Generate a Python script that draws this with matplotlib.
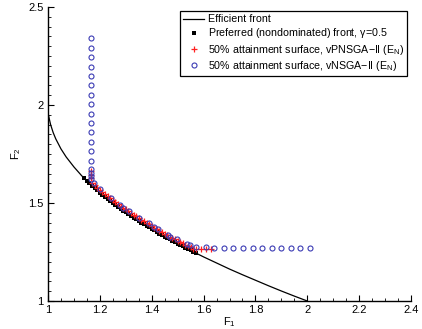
import matplotlib
matplotlib.use("Agg")
import matplotlib.pyplot as plt
from matplotlib.ticker import MultipleLocator, FuncFormatter

plt.rcParams['font.family'] = ['Liberation Sans', 'DejaVu Sans']
plt.rcParams['mathtext.fontset'] = 'custom'
plt.rcParams['mathtext.rm'] = 'Liberation Sans'
plt.rcParams['mathtext.it'] = 'Liberation Sans'

# Efficient front
front_f1 = [1.0, 1.005, 1.01, 1.02, 1.03, 1.05, 1.07, 1.10, 1.13, 1.16, 1.20, 1.25, 1.30,
            1.35, 1.40, 1.45, 1.50, 1.55, 1.60, 1.65, 1.70, 1.75, 1.80, 1.85, 1.90, 1.95, 2.0]
front_f2 = [1.96, 1.929, 1.900, 1.859, 1.827, 1.776, 1.735, 1.684, 1.639, 1.600, 1.553, 1.500, 1.452,
            1.408, 1.368, 1.329, 1.293, 1.258, 1.225, 1.194, 1.163, 1.134, 1.106, 1.078, 1.051, 1.025, 1.0]

# Preferred (nondominated) front
pref_f1 = [1.14, 1.15, 1.16, 1.17, 1.18, 1.19, 1.20, 1.21, 1.22, 1.23, 1.24, 1.25, 1.26, 1.27,
           1.28, 1.29, 1.30, 1.31, 1.32, 1.33, 1.34, 1.35, 1.36, 1.37, 1.38, 1.39, 1.40, 1.41,
           1.42, 1.43, 1.44, 1.45, 1.46, 1.47, 1.48, 1.49, 1.50, 1.51, 1.52, 1.53, 1.54, 1.55,
           1.56, 1.57]
pref_f2 = [1.626, 1.613, 1.600, 1.588, 1.576, 1.564, 1.553, 1.542, 1.531, 1.520, 1.510, 1.500, 1.490, 1.480,
           1.471, 1.461, 1.452, 1.443, 1.434, 1.426, 1.417, 1.408, 1.400, 1.392, 1.384, 1.376, 1.368, 1.360,
           1.352, 1.344, 1.337, 1.329, 1.322, 1.314, 1.307, 1.300, 1.293, 1.286, 1.279, 1.272, 1.265, 1.258,
           1.252, 1.245]

# 50% attainment surface, vPNSGA-II
vp_f1 = [1.165, 1.165, 1.165, 1.17, 1.18, 1.19, 1.20, 1.21, 1.22, 1.23, 1.24, 1.25, 1.26, 1.27,
         1.28, 1.29, 1.30, 1.31, 1.32, 1.33, 1.34, 1.35, 1.36, 1.37, 1.38, 1.39, 1.40, 1.41,
         1.42, 1.43, 1.44, 1.45, 1.46, 1.47, 1.48, 1.49, 1.50, 1.51, 1.52, 1.53, 1.54, 1.55,
         1.56, 1.57, 1.59, 1.61, 1.63]
vp_f2 = [1.665, 1.645, 1.628, 1.603, 1.591, 1.579, 1.568, 1.557, 1.546, 1.535, 1.525, 1.515, 1.505, 1.495,
         1.486, 1.476, 1.467, 1.458, 1.449, 1.441, 1.432, 1.423, 1.415, 1.407, 1.399, 1.391, 1.383, 1.375,
         1.367, 1.359, 1.352, 1.344, 1.337, 1.329, 1.322, 1.315, 1.308, 1.301, 1.294, 1.287, 1.280, 1.273,
         1.267, 1.265, 1.265, 1.265, 1.265]

# 50% attainment surface, vNSGA-II
vn_f1 = [1.165] * 18 + [1.178, 1.201, 1.242, 1.278, 1.291, 1.314, 1.351, 1.390, 1.407, 1.426, 1.462,
                        1.471, 1.497, 1.535, 1.548, 1.571, 1.609,
                        1.642, 1.679, 1.715, 1.752, 1.789, 1.826, 1.862, 1.899, 1.936, 1.972, 2.009]
vn_f2 = [2.340, 2.292, 2.244, 2.196, 2.148, 2.100, 2.052, 2.004, 1.956, 1.908, 1.860, 1.812, 1.764,
         1.716, 1.672, 1.651, 1.638, 1.621,
         1.600, 1.571, 1.524, 1.490, 1.476, 1.459, 1.425, 1.396, 1.379, 1.365, 1.337,
         1.328, 1.314, 1.289, 1.286, 1.274, 1.274,
         1.272, 1.272, 1.272, 1.272, 1.272, 1.272, 1.272, 1.272, 1.272, 1.272, 1.272]

fig = plt.figure(figsize=(4.22, 3.29), dpi=100)
ax = fig.add_axes([48/422, 28/329, 363/422, 294/329])

ax.plot(front_f1, front_f2, '-', color='black', lw=0.9, label='Efficient front')
ax.plot(pref_f1, pref_f2, 's', color='black', ms=3.0, mew=0, ls='none',
        label='Preferred (nondominated) front, $\\gamma$=0.5')
ax.plot(vp_f1, vp_f2, '+', color='#ff2020', ms=3.8, mew=0.9, ls='none',
        label='50% attainment surface, vPNSGA\u2212II (E$_{\\rm N}$)')
ax.plot(vn_f1, vn_f2, 'o', mfc='none', mec='#3c3cb4', ms=3.6, mew=0.8, ls='none',
        label='50% attainment surface, vNSGA\u2212II (E$_{\\rm N}$)')

ax.set_xlim(1, 2.4)
ax.set_ylim(1, 2.5)
ax.xaxis.set_major_locator(MultipleLocator(0.2))
ax.xaxis.set_minor_locator(MultipleLocator(0.05))
ax.yaxis.set_major_locator(MultipleLocator(0.5))
ax.yaxis.set_minor_locator(MultipleLocator(0.05))
fmt = FuncFormatter(lambda v, p: '%g' % round(v, 2))
ax.xaxis.set_major_formatter(fmt)
ax.yaxis.set_major_formatter(fmt)

for s in ['top', 'right']:
    ax.spines[s].set_visible(False)
for s in ['left', 'bottom']:
    ax.spines[s].set_linewidth(1.0)
ax.tick_params(which='major', direction='in', length=4, width=0.8, labelsize=8, colors='black', pad=3)
ax.tick_params(which='minor', direction='in', length=2, width=0.6)

ax.set_xlabel('F$_1$', fontsize=8, labelpad=0)
ax.set_ylabel('F$_2$', fontsize=8, labelpad=4)

leg = ax.legend(loc='upper right', bbox_to_anchor=(0.989, 0.986), fontsize=7.7, frameon=True,
                fancybox=False, edgecolor='black', framealpha=1, handlelength=2.0,
                handletextpad=0.3, borderpad=0.3, labelspacing=0.2, borderaxespad=0)
leg.get_frame().set_linewidth(0.9)

fig.savefig('out.png', dpi=100)
